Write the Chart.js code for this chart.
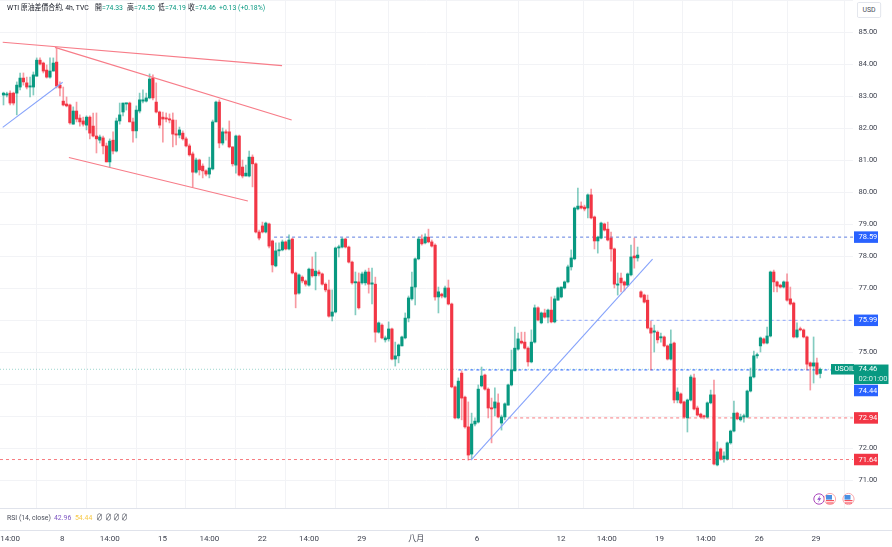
<!DOCTYPE html>
<html><head><meta charset="utf-8">
<style>
html,body{margin:0;padding:0;background:#fff;width:892px;height:547px;overflow:hidden}
#wrap{position:relative;width:892px;height:547px;filter:blur(.3px)}
canvas{position:absolute;left:0;top:0}
.t{position:absolute;white-space:nowrap;font:8px/10px Roboto,"Noto Sans CJK TC",sans-serif;color:#4a4e5a;transform:scaleX(.86);transform-origin:left center}
.g{color:#089981}
svg{position:absolute;left:0;top:0}
</style>
<script src="https://cdn.jsdelivr.net/npm/chart.js@4"></script>
</head><body><div id="wrap"><canvas id="c" width="892" height="547"></canvas>
<div class="t" style="left:7px;top:3px;color:#131722">WTI 原油差價合約, 4h, TVC</div>
<div class="t g" style="left:95px;top:3px"><span style="color:#131722">開</span>=74.33</div>
<div class="t g" style="left:127px;top:3px"><span style="color:#131722">高</span>=74.50</div>
<div class="t g" style="left:158px;top:3px"><span style="color:#131722">低</span>=74.19</div>
<div class="t g" style="left:188px;top:3px"><span style="color:#131722">收</span>=74.46</div>
<div class="t g" style="left:219px;top:3px">+0.13 (+0.18%)</div>
<div class="t" style="left:7px;top:513px">RSI (14, close)</div>
<div class="t" style="left:54px;top:513px;color:#7e57c2">42.96</div>
<div class="t" style="left:75px;top:513px;color:#f7c948">54.44</div>
<div class="t" style="left:96px;top:513px">∅</div><div class="t" style="left:105px;top:513px">∅</div>
<div class="t" style="left:113px;top:513px">∅</div><div class="t" style="left:121px;top:513px">∅</div>
<div class="t" style="left:856.5px;top:2px;width:26px;height:14px;line-height:14px;text-align:center;border:1px solid #e0e3eb;border-radius:2px;background:#fff">USD</div>
<svg width="892" height="547" style="pointer-events:none">
<circle cx="819" cy="499" r="5.2" fill="#fff" stroke="#ab47bc" stroke-width="1"/>
<path d="M820.5 495 L817.2 499.8 L819.2 499.8 L817.8 503 L821.2 498.2 L819.2 498.2 Z" fill="#8e44c8"/>
<circle cx="830" cy="499" r="5.6" fill="#fff" stroke="#f7a8ad" stroke-width="1"/>
<rect x="826" y="500" width="8" height="1.2" fill="#f7525f"/><rect x="826.5" y="502.4" width="7" height="1.2" fill="#f7525f"/>
<rect x="826" y="495" width="6" height="4.6" fill="#4a90e2"/>
<circle cx="848.5" cy="499" r="5.6" fill="#fff" stroke="#f7a8ad" stroke-width="1"/>
<rect x="844.5" y="500" width="8" height="1.2" fill="#f7525f"/><rect x="845" y="502.4" width="7" height="1.2" fill="#f7525f"/>
<rect x="844.5" y="495" width="6" height="4.6" fill="#4a90e2"/>
</svg></div>
<script>
const opens=[83.03,83.03,83.09,83.09,83.09,83.28,83.56,83.41,83.28,83.28,
83.62,84.12,84.03,83.81,83.59,83.78,84.06,83.34,82.84,82.75,
82.72,82.12,82.53,82.31,82.22,82.09,82.34,82.06,81.75,81.62,
81.69,81.44,80.94,81.62,81.28,82.22,82.50,82.75,82.78,82.19,
81.91,82.53,82.84,82.84,82.94,83.56,82.81,82.50,82.34,82.31,
82.28,82.25,81.81,81.78,81.84,81.66,81.44,81.19,80.62,81.00,
80.81,80.66,80.56,80.72,82.19,82.81,81.53,81.88,81.88,81.41,
80.84,81.75,80.78,80.50,80.50,81.09,80.88,78.75,78.94,78.75,
79.00,78.47,77.69,78.16,78.19,78.44,78.22,78.53,77.47,76.84,
77.34,77.22,77.09,77.59,77.38,77.50,77.44,77.12,76.94,76.12,
76.25,78.25,78.28,78.53,78.28,77.81,77.16,77.19,77.16,77.16,
77.50,77.12,77.12,75.62,75.84,75.38,75.41,75.72,74.78,74.88,
75.19,75.44,76.06,76.66,77.03,77.91,78.53,78.41,78.59,78.44,
78.34,76.72,76.81,76.72,77.00,76.50,73.91,72.94,74.34,73.59,
72.66,71.81,72.75,72.81,73.94,74.28,73.84,73.25,73.25,73.41,
72.78,72.97,73.34,73.97,74.41,75.09,75.34,75.31,75.12,74.69,
75.31,76.38,75.91,76.22,76.09,76.31,75.94,76.62,76.72,77.00,
77.19,77.66,77.91,79.47,79.56,79.53,79.50,79.91,79.22,78.47,
78.56,79.00,78.84,78.56,78.22,77.09,77.31,77.19,77.09,77.41,
78.00,77.94,76.88,76.78,76.62,75.75,75.62,75.62,75.44,75.47,
75.19,74.78,75.28,73.50,73.69,73.44,72.94,73.50,74.19,73.25,
73.06,73.00,72.97,73.41,73.66,71.47,71.97,71.66,71.66,72.16,
72.53,73.09,72.88,72.97,72.97,73.78,74.22,74.88,75.19,75.41,
75.28,75.50,77.50,77.19,77.09,77.03,77.19,76.66,76.53,75.47,
75.72,75.69,75.47,74.66,74.56,74.66,74.33];
const closes=[83.09,83.06,82.78,82.78,83.34,83.56,83.44,83.28,83.31,83.66,
84.12,84.00,83.78,83.59,83.78,84.03,83.31,83.25,82.72,82.69,
82.16,82.53,82.28,82.19,82.12,82.34,81.84,81.75,81.66,81.72,
81.44,80.94,81.59,81.28,82.22,82.41,82.78,82.78,82.19,81.91,
82.56,82.88,82.88,82.94,83.53,82.94,82.50,82.09,82.28,82.28,
82.25,81.81,81.78,81.94,81.66,81.44,81.16,80.62,81.00,80.69,
80.66,80.56,80.75,82.19,82.81,81.53,81.88,81.84,81.41,80.88,
81.75,80.53,80.50,80.59,81.09,80.88,78.75,78.56,78.75,79.03,
78.31,77.72,78.16,78.19,78.44,78.22,78.50,77.47,76.81,77.41,
77.22,77.12,77.59,77.38,77.53,77.44,77.12,76.94,76.12,76.25,
78.25,78.28,78.53,78.28,77.81,77.16,77.19,76.38,77.44,77.50,
77.12,77.16,75.62,75.91,75.44,75.44,75.72,74.78,74.88,75.22,
75.47,76.06,76.69,77.03,77.91,78.53,78.38,78.59,78.44,78.31,
76.72,76.88,76.75,77.00,76.50,73.91,72.94,74.09,73.56,72.66,
71.78,72.75,72.84,73.84,74.25,73.84,73.25,73.22,73.44,72.97,
72.97,73.38,73.97,74.44,75.12,75.41,75.28,75.12,74.69,75.31,
76.38,76.00,76.22,76.09,76.31,75.94,76.66,77.00,77.03,77.19,
77.66,77.94,79.50,79.56,79.50,79.47,79.91,79.19,78.47,78.59,
79.03,78.81,78.50,78.22,77.12,77.12,77.16,77.09,77.44,77.97,
77.94,78.03,76.72,76.56,75.75,75.59,75.66,75.38,75.47,75.19,
74.78,75.25,73.50,73.75,73.41,72.97,73.50,74.22,73.22,73.03,
72.97,72.97,73.41,73.66,71.50,71.88,71.66,71.75,72.16,72.53,
73.09,72.91,72.97,73.00,73.78,74.22,74.88,74.91,75.44,75.28,
75.50,77.50,77.19,77.06,77.03,77.19,76.62,76.50,75.47,75.69,
75.69,75.47,74.62,74.56,74.66,74.31,74.46];
const highs=[83.12,83.12,83.16,83.12,83.44,83.72,83.72,83.59,83.59,83.75,
84.19,84.19,84.06,83.97,84.19,84.19,84.50,83.44,83.28,82.97,
82.75,82.66,82.81,82.41,82.34,82.38,82.38,82.47,82.47,81.78,
81.75,81.53,81.66,81.88,82.31,82.78,82.78,82.78,82.81,82.31,
82.69,83.09,83.19,83.09,83.69,83.66,83.41,82.53,82.50,82.47,
82.44,82.47,82.25,82.03,81.91,81.72,81.50,81.25,81.06,81.03,
80.88,80.69,81.09,82.25,82.84,82.88,82.00,81.94,82.22,81.41,
81.78,81.78,81.00,80.84,81.28,81.16,80.91,78.81,79.06,79.06,
79.03,78.50,78.41,78.41,78.50,78.47,78.66,78.56,77.50,77.44,
77.38,77.25,77.62,77.97,78.12,77.56,77.47,77.16,77.25,76.94,
78.28,78.34,78.56,78.56,78.31,77.84,77.50,77.47,77.50,77.56,
77.62,77.62,77.34,75.94,75.88,75.50,75.94,75.75,75.31,75.25,
75.50,76.22,76.75,77.50,77.94,78.59,78.66,78.69,78.84,78.50,
78.38,77.03,76.84,77.06,77.25,76.53,73.94,74.19,74.41,73.62,
73.44,73.09,72.94,73.97,74.53,74.31,73.88,73.56,73.88,73.69,
73.03,73.41,74.00,75.06,75.78,75.59,75.62,75.62,75.16,75.69,
76.47,76.41,76.25,76.34,76.34,76.72,76.75,77.03,77.03,77.22,
77.72,78.19,79.53,80.12,79.69,79.59,79.94,80.09,79.25,78.62,
79.06,79.03,79.06,78.75,78.25,77.47,77.47,77.22,77.47,78.34,
78.56,78.28,76.91,76.81,76.78,75.97,75.84,75.66,75.59,75.50,
75.22,75.69,75.31,73.88,73.72,73.47,73.53,74.28,74.31,73.31,
73.09,73.03,73.44,73.81,74.12,72.19,72.00,71.88,72.19,72.56,
73.47,73.12,73.06,73.06,73.81,74.50,75.03,74.97,75.47,75.44,
75.78,77.53,77.56,77.22,77.12,77.22,77.44,77.03,76.56,75.91,
75.78,75.72,75.50,74.69,75.47,74.81,74.50];
const lows=[82.72,82.97,82.72,82.72,82.41,83.19,83.34,83.22,82.97,83.03,
83.62,83.97,83.72,83.56,83.56,83.78,83.25,83.00,82.69,82.66,
82.12,82.12,82.19,82.06,82.06,81.94,81.66,81.72,81.22,81.53,
81.19,80.94,80.78,81.19,81.25,82.12,82.38,82.56,82.19,81.56,
81.69,82.47,82.78,82.81,82.91,82.88,82.47,82.00,81.56,82.19,
82.16,81.41,81.47,81.69,81.62,81.41,81.12,80.16,80.59,80.53,
80.44,80.50,80.44,80.69,82.19,81.38,81.47,81.62,81.38,80.81,
80.59,80.50,80.44,80.50,80.47,80.16,78.72,78.50,78.72,78.72,
78.25,77.50,77.66,78.00,78.16,78.19,78.19,77.44,76.38,76.81,
77.16,77.06,77.06,77.34,76.94,77.38,77.09,76.88,76.09,75.97,
76.22,77.97,78.25,78.25,77.78,77.12,76.16,76.34,77.12,77.09,
76.84,76.50,75.31,75.59,75.41,75.31,75.34,74.75,74.56,74.66,
75.19,75.41,75.94,76.62,76.47,77.88,78.34,78.38,78.41,78.28,
76.62,76.22,76.69,76.69,76.47,73.88,72.91,72.91,72.88,72.62,
71.62,71.66,72.69,72.78,73.91,73.81,72.94,72.16,73.00,72.94,
72.56,72.88,73.34,73.94,74.41,75.06,75.25,75.09,74.56,74.66,
75.28,75.97,75.88,76.06,75.91,75.91,75.91,76.62,76.69,76.97,
77.16,77.56,77.88,79.44,79.47,79.41,79.19,79.16,78.22,78.09,
78.53,78.78,78.47,77.84,77.00,76.78,76.88,76.91,77.06,77.38,
77.62,77.84,76.69,76.53,75.72,74.44,75.00,75.28,75.31,75.16,
74.75,74.75,73.41,73.41,73.38,72.94,72.50,73.47,73.19,73.00,
72.94,72.91,72.94,73.38,71.47,71.44,71.62,71.56,71.62,72.12,
72.50,72.88,72.84,72.81,72.94,73.75,74.19,74.81,75.00,75.25,
75.25,75.47,76.88,76.88,77.00,77.00,76.59,76.47,75.44,75.44,
75.66,75.44,74.44,73.81,74.03,74.28,74.19];

const xTickIndex=[2,17.7,32,47.9,62,77.9,92,107.9,124.3,142.6,167.9,181.7,197.6,211.5,227.6,244.7];
const xTickLabels=['14:00','8','14:00','15','14:00','22','14:00','29','八月','6','12','14:00','19','14:00','26','29'];
const hiddenYTicks=[86,76,74,73];

const trendRed=[[[-0.24,84.68],[83.9,83.95]],[[15.5,84.52],[86.8,82.25]],[[19.7,81.08],[73.6,79.72]]];
const trendBlue=[[[-0.24,82.02],[17.83,83.43]],[[140.8,71.62],[195.5,77.9]]];
const levels=[{v:78.59,from:81.5,c:'#5f7fe0'},{v:75.99,from:166,c:'#8fa8fb'},{v:74.44,from:137,c:'#2962ff'},{v:72.94,from:152,c:'#f77c80'},{v:71.64,from:-1.06,c:'#f77c80'}];
const lastPrice=74.46;

const GREEN='#089981',RED='#f23645',GW='rgba(8,153,129,.5)',RW='rgba(242,54,69,.5)';
const XMIN=-1.054,XMAX=255.87,YMIN=70.125,YMAX=86;
const idx=opens.map((_,i)=>i);
const isUp=i=>closes[i]>=opens[i];
const mkLine=(pts,color,w,dash)=>({type:'line',data:pts.map(p=>({x:p[0],y:p[1]})),borderColor:color,borderWidth:w,borderDash:dash||[],pointRadius:0,tension:0,parsing:false,order:dash?5:0,fill:false});

const tags=[{v:78.59,bg:'#2962ff',t:'78.59'},{v:75.99,bg:'#2962ff',t:'75.99'},{v:72.94,bg:'#f23645',t:'72.94'},{v:71.64,bg:'#f23645',t:'71.64'}];

const tagPlugin={id:'tags',afterDraw(ch){
 const y=ch.scales.y,c=ch.ctx;c.save();c.textBaseline='middle';c.font='7.5px Roboto';
 const box=(x,yc,w,h,bg,txt,tx)=>{c.fillStyle=bg;c.fillRect(x,yc-h/2,w,h);if(txt){c.fillStyle='#fff';c.textAlign='left';c.fillText(txt,tx,yc+.3);}};
 tags.forEach(t=>box(854,y.getPixelForValue(t.v),24,11.5,t.bg,t.t,858.5));
 const py=y.getPixelForValue(lastPrice);
 box(831,py,23,10.5,GREEN,'USOIL',834.5);
 box(854,py+5,34.5,19.5,GREEN,null);
 c.fillStyle='#fff';c.textAlign='left';c.fillText('74.46',858.5,py+.3);c.fillStyle='#d5efe9';c.fillText('02:01:00',858.5,py+9.5);
 box(854,390.5,24,11.5,'#2962ff','74.44',858.5);
 c.strokeStyle='#e0e3eb';c.lineWidth=1;
 c.beginPath();c.moveTo(0,508.5);c.lineTo(892,508.5);c.moveTo(0,530.5);c.lineTo(892,530.5);c.stroke();
 c.restore();
}};

new Chart(document.getElementById('c'),{
 type:'bar',
 plugins:[tagPlugin],
 data:{datasets:[
  {label:'wick',data:idx.map(i=>({x:i,y:[lows[i],highs[i]]})),backgroundColor:idx.map(i=>isUp(i)?GW:RW),barThickness:1,grouped:false,order:4},
  {label:'body',data:idx.map(i=>({x:i,y:[opens[i],closes[i]]})),backgroundColor:idx.map(i=>isUp(i)?GREEN:RED),barThickness:2.5,minBarLength:1.2,grouped:false,order:3},
  ...trendRed.map(p=>mkLine(p,'#f77c88',1.1)),
  ...trendBlue.map(p=>mkLine(p,'#86a3fb',1.1)),
  ...levels.map(l=>mkLine([[l.from,l.v],[XMAX,l.v]],l.c,1,[3,3])),
  mkLine([[XMIN,lastPrice],[XMAX,lastPrice]],'rgba(8,153,129,.4)',1,[1,2])
 ]},
 options:{
  responsive:false,animation:false,devicePixelRatio:1,
  layout:{padding:0},
  plugins:{legend:{display:false},tooltip:{enabled:false},title:{display:false}},
  scales:{
   x:{type:'linear',min:XMIN,max:XMAX,offset:false,
    afterBuildTicks(s){s.ticks=xTickIndex.map(v=>({value:v}));},
    afterFit(s){s.height=39;s.paddingLeft=0;s.paddingRight=0;},
    grid:{color:'#f2f3f6',drawTicks:false},border:{display:false},
    ticks:{autoSkip:false,maxRotation:0,padding:26,font:{family:'Roboto,"Noto Sans CJK TC"',size:8},color:'#3f4350',
     callback(v){const k=xTickIndex.indexOf(v);return k<0?'':xTickLabels[k];}}},
   y:{type:'linear',position:'right',min:YMIN,max:YMAX,
    afterBuildTicks(s){const a=[];for(let v=71;v<=86;v++)a.push({value:v});s.ticks=a;},
    afterFit(s){s.width=39;s.paddingTop=0;s.paddingBottom=0;},
    grid:{color:'#f2f3f6',drawTicks:false},border:{display:false},
    ticks:{padding:5.5,autoSkip:false,font:{family:'Roboto',size:7.5},color:'#3f4350',
     callback(v){return hiddenYTicks.includes(v)?'':v.toFixed(2);}}}
  }
 }
});
</script></body></html>
